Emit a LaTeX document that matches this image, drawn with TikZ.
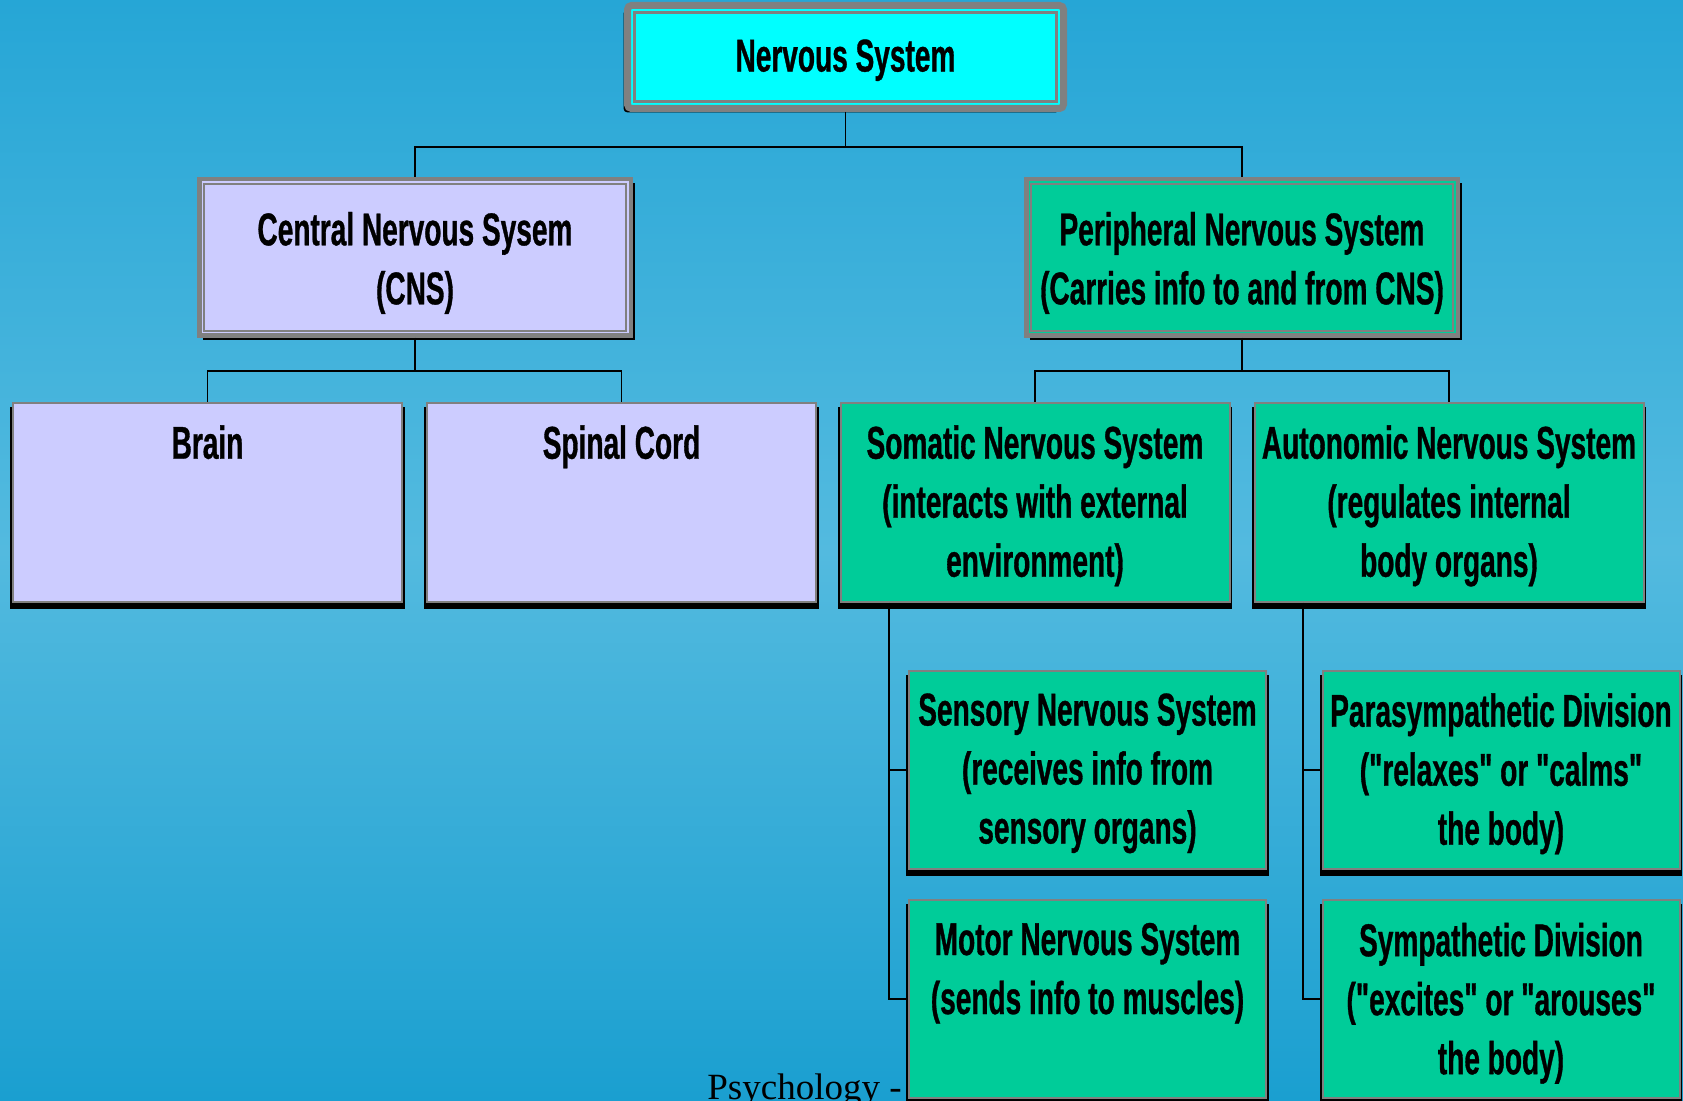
\documentclass[tikz,border=0pt]{standalone}
\usepackage{fontspec}
\newfontfamily\narrowfont{Liberation Sans}[FakeStretch=0.61, BoldFeatures={FakeBold=0.7}]
\newfontfamily\footfont{Liberation Serif}
\usetikzlibrary{shadows}
\definecolor{bgtop}{HTML}{26A6D6}
\definecolor{bgmid}{HTML}{53BADF}
\definecolor{bgbot}{HTML}{1A9FD0}
\definecolor{boxgray}{HTML}{808080}
\definecolor{lavender}{HTML}{CCCCFF}
\definecolor{seagreen}{HTML}{00CC99}
\definecolor{topcyan}{HTML}{00FFFF}
\begin{document}
\begin{tikzpicture}[x=0.5pt, y=-0.5pt,
    connector/.style={draw=black, line width=0.9pt},
    orgbox/.style={draw=boxgray, line width=1pt, inner sep=0pt,
        minimum width=194.5pt, minimum height=99.5pt,
        general shadow={fill=black, shadow yshift=-2.5pt, shadow scale=1.015}},
    subbox/.style={orgbox, fill=seagreen, minimum width=178.5pt, minimum height=99pt},
    framebox/.style={draw=boxgray, line width=2.25pt, inner sep=0pt,
        minimum width=215.75pt, minimum height=78.25pt,
        general shadow={fill=black, shadow xshift=2pt, shadow yshift=-2pt}},
    innerline/.style={draw=boxgray, line width=0.75pt},
    boxlabel/.style={font=\narrowfont\bfseries\fontsize{23}{29.5}\selectfont,
        align=center, inner sep=0pt, anchor=north},
  ]
  \useasboundingbox (0,0) rectangle (1683,1101);
  \clip (0,0) rectangle (1683,1101);
  \shade[top color=bgtop, bottom color=bgbot, middle color=bgmid] (0,0) rectangle (1683,1101);

  % top level
  \node[draw=boxgray, line width=3.5pt, fill=topcyan, rounded corners=2pt, inner sep=0pt,
        minimum width=218pt, minimum height=51.5pt,
        general shadow={fill=black, shadow xshift=-2pt, shadow yshift=-2pt}] (ns) at (845.5,57) {};
  \draw[boxgray, line width=1.5pt] ([shift={(5.1pt,-5.1pt)}]ns.north west) rectangle ([shift={(-5.1pt,5.1pt)}]ns.south east);
  \node[boxlabel] (ns-l) at ([yshift=-18.5pt]ns.north) {Nervous System};

  % second level
  \node[framebox, fill=lavender] (cns) at (415,257.5) {};
  \node[framebox, fill=seagreen] (pns) at (1242,257.5) {};
  \draw[innerline] ([shift={(3.6pt,-3.6pt)}]cns.north west) rectangle ([shift={(-3.6pt,3.6pt)}]cns.south east);
  \draw[innerline] ([shift={(3.6pt,-3.6pt)}]pns.north west) rectangle ([shift={(-3.6pt,3.6pt)}]pns.south east);

  % third level
  \node[orgbox, fill=lavender] (brain) at (207.5,502.5) {};
  \node[orgbox, fill=lavender] (spinal) at (621.5,502.5) {};
  \node[orgbox, fill=seagreen] (somatic) at (1035,502.5) {};
  \node[orgbox, fill=seagreen] (autonomic) at (1449,502.5) {};

  \draw[connector] (ns.south) -- ++(0,35) -| (cns.north);
  \draw[connector] (ns.south) -- ++(0,35) -| (pns.north);
  \draw[connector] (cns.south) -- ++(0,33) -| (brain.north);
  \draw[connector] (cns.south) -- ++(0,33) -| (spinal.north);
  \draw[connector] (pns.south) -- ++(0,33) -| (somatic.north);
  \draw[connector] (pns.south) -- ++(0,33) -| (autonomic.north);

  \node[font=\footfont\fontsize{18.5}{20}\selectfont, anchor=base west, inner sep=0pt] (footer) at (707,1099) {Psychology -};

  % fourth level
  \node[subbox] (sensory) at (1087.5,770) {};
  \node[subbox] (motor) at (1087.5,999) {};
  \node[subbox] (para) at (1501,770) {};
  \node[subbox] (symp) at (1501,999) {};

  \draw[connector] ([xshift=-73pt]somatic.south) |- (sensory.west);
  \draw[connector] ([xshift=-73pt]somatic.south) |- (motor.west);
  \draw[connector] ([xshift=-73pt]autonomic.south) |- (para.west);
  \draw[connector] ([xshift=-73pt]autonomic.south) |- (symp.west);

  % labels
  \node[boxlabel] (cns-l) at ([yshift=-17.3pt]cns.north) {Central Nervous Sysem\\(CNS)};
  \node[boxlabel] (pns-l) at ([yshift=-17.3pt]pns.north) {Peripheral Nervous System\\(Carries info to and from CNS)};
  \node[boxlabel] (brain-l) at ([yshift=-11.5pt]brain.north) {Brain};
  \node[boxlabel] (spinal-l) at ([yshift=-11.5pt]spinal.north) {Spinal Cord};
  \node[boxlabel] (somatic-l) at ([yshift=-11.5pt]somatic.north) {Somatic Nervous System\\(interacts with external\\environment)};
  \node[boxlabel] (autonomic-l) at ([yshift=-11.5pt]autonomic.north) {Autonomic Nervous System\\(regulates internal\\body organs)};
  \node[boxlabel] (sensory-l) at ([yshift=-11.5pt]sensory.north) {Sensory Nervous System\\(receives info from\\sensory organs)};
  \node[boxlabel] (motor-l) at ([yshift=-11.75pt]motor.north) {Motor Nervous System\\(sends info to muscles)};
  \node[boxlabel] (para-l) at ([yshift=-11.5pt]para.north) {Parasympathetic Division\\("relaxes" or "calms"\\the body)};
  \node[boxlabel] (symp-l) at ([yshift=-11.75pt]symp.north) {Sympathetic Division\\("excites" or "arouses"\\the body)};
\end{tikzpicture}
\end{document}
